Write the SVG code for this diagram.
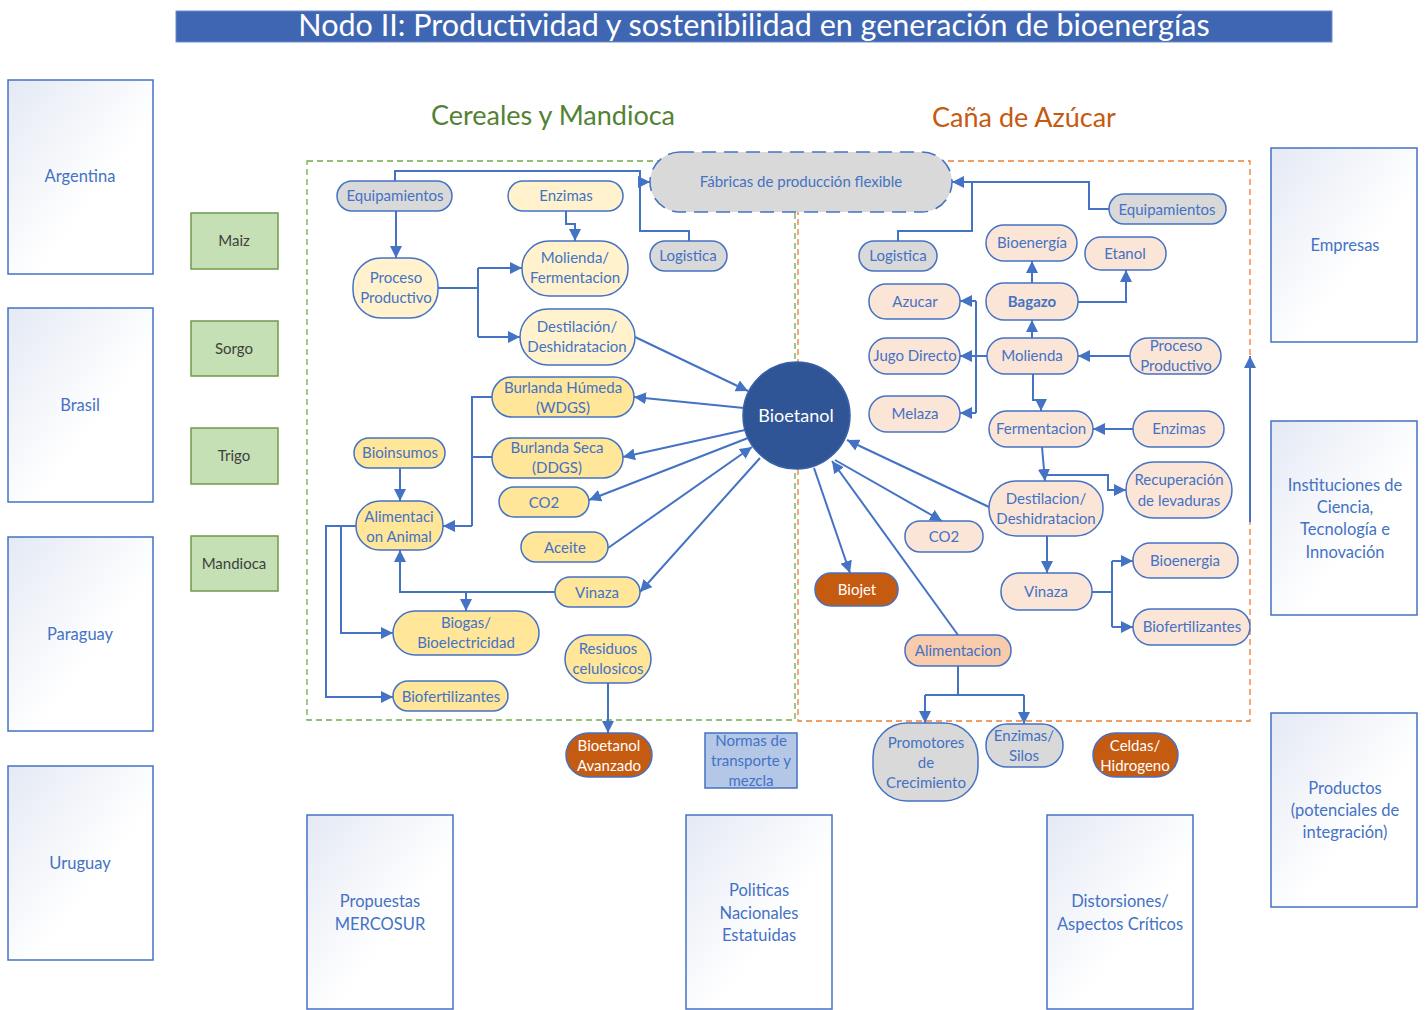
<svg xmlns="http://www.w3.org/2000/svg" width="1426" height="1010" viewBox="0 0 1426 1010">
<defs>
<linearGradient id="g" x1="0" y1="0" x2="1" y2="1">
<stop offset="0" stop-color="#e4e9f4"/>
<stop offset="0.6" stop-color="#ffffff"/>
</linearGradient>
<marker id="a" viewBox="0 0 10 10" refX="10" refY="5" markerWidth="12" markerHeight="12" markerUnits="userSpaceOnUse" orient="auto">
<path d="M0,0 L10,5 L0,10 z" fill="#4472c4"/>
</marker>
<style>
text{font-family:Lato,"Liberation Sans",sans-serif;text-anchor:middle}
.t{fill:#4472c4;font-size:15px}
.w{fill:#ffffff;font-size:15px}
.big{fill:#4472c4;font-size:16.5px}
.gt{fill:#3f3f3f;font-size:15px}
.n{stroke:#4472c4;stroke-width:1.5}
.gr{fill:#d9d9d9}
.ly{fill:#fff2cc}
.dy{fill:#ffe699}
.pk{fill:#fbe5d6}
.pk2{fill:#f8cbad}
.or{fill:#c55a11}
.box{fill:url(#g);stroke:#4472c4;stroke-width:1.5}
.gb{fill:#c5e0b4;stroke:#6f9a4a;stroke-width:1.5}
.c{fill:none;stroke:#4472c4;stroke-width:2}
.ar{marker-end:url(#a)}
</style>
</defs>

<g id="title">
<rect x="176" y="11" width="1156" height="31" fill="#3f66b3" stroke="#6c8cc8" stroke-width="1"/>
<text x="754" y="36" style="fill:#ffffff;font-size:30.5px">Nodo II: Productividad y sostenibilidad en generación de bioenergías</text>
</g>
<g id="headers">
<text x="553" y="125" style="fill:#548235;font-size:27px">Cereales y Mandioca</text>
<text x="1024" y="127" style="fill:#c55a11;font-size:27px">Caña de Azúcar</text>
</g>

<g id="regions">
<rect x="307" y="161" width="488" height="559" fill="none" stroke="#70ad47" stroke-width="1.3" stroke-dasharray="6,4"/>
<rect x="798" y="161" width="452" height="560" fill="none" stroke="#ed7d31" stroke-width="1.3" stroke-dasharray="6,4"/>
</g>

<g id="countries">
<g id="argentina"><rect class="box" x="8" y="80" width="145" height="194"/><text class="big" x="80" y="182">Argentina</text></g>
<g id="brasil"><rect class="box" x="8" y="308" width="145" height="194"/><text class="big" x="80" y="411">Brasil</text></g>
<g id="paraguay"><rect class="box" x="8" y="537" width="145" height="194"/><text class="big" x="80" y="640">Paraguay</text></g>
<g id="uruguay"><rect class="box" x="8" y="766" width="145" height="194"/><text class="big" x="80" y="869">Uruguay</text></g>
</g>

<g id="crops">
<g id="maiz"><rect class="gb" x="191" y="213" width="87" height="56"/><text class="gt" x="234" y="246">Maiz</text></g>
<g id="sorgo"><rect class="gb" x="191" y="321" width="87" height="55"/><text class="gt" x="234" y="354">Sorgo</text></g>
<g id="trigo"><rect class="gb" x="191" y="428" width="87" height="56"/><text class="gt" x="234" y="461">Trigo</text></g>
<g id="mandioca"><rect class="gb" x="191" y="536" width="87" height="55"/><text class="gt" x="234" y="569">Mandioca</text></g>
</g>

<g id="sidebox">
<g id="empresas"><rect class="box" x="1271" y="148" width="146" height="194"/><text class="big" x="1345" y="251">Empresas</text></g>
<g id="instituciones"><rect class="box" x="1271" y="421" width="146" height="194"/><text class="big" x="1345" y="491">Instituciones de</text><text class="big" x="1345" y="513">Ciencia,</text><text class="big" x="1345" y="535">Tecnología e</text><text class="big" x="1345" y="558">Innovación</text></g>
<g id="productos"><rect class="box" x="1271" y="713" width="146" height="194"/><text class="big" x="1345" y="794">Productos</text><text class="big" x="1345" y="816">(potenciales de</text><text class="big" x="1345" y="838">integración)</text></g>
<g id="propuestas"><rect class="box" x="307" y="815" width="146" height="194"/><text class="big" x="380" y="907">Propuestas</text><text class="big" x="380" y="930">MERCOSUR</text></g>
<g id="politicas"><rect class="box" x="686" y="815" width="146" height="194"/><text class="big" x="759" y="896">Politicas</text><text class="big" x="759" y="919">Nacionales</text><text class="big" x="759" y="941">Estatuidas</text></g>
<g id="distorsiones"><rect class="box" x="1047" y="815" width="146" height="194"/><text class="big" x="1120" y="907">Distorsiones/</text><text class="big" x="1120" y="930">Aspectos Críticos</text></g>
</g>

<g id="connectors">
<!-- left -->
<path class="c ar" d="M396,211 V258"/>
<path class="c" d="M395,181 V171 H640 V231 H689 V241"/>
<path class="c ar" d="M640,182 H650"/>
<path class="c ar" d="M566,211 V224 H575 V241"/>
<path class="c" d="M438,288 H478 M478,268 V337"/>
<path class="c ar" d="M478,268 H522"/>
<path class="c ar" d="M478,337 H520"/>
<path class="c ar" d="M635,337 L748,391"/>
<path class="c ar" d="M744,408 L634,397"/>
<path class="c ar" d="M745,430 L623,457"/>
<path class="c ar" d="M748,438 L589,500"/>
<path class="c ar" d="M608,548 L752,447"/>
<path class="c ar" d="M760,458 L640,592"/>
<path class="c" d="M492,397 H472 V526"/>
<path class="c" d="M492,457 H472"/>
<path class="c ar" d="M472,526 H443"/>
<path class="c ar" d="M400,468 V501"/>
<path class="c ar" d="M555,592 H400 V550"/>
<path class="c ar" d="M466,592 V611"/>
<path class="c ar" d="M356,526 H341 V633 H393"/>
<path class="c ar" d="M341,526 H326 V697 H393"/>
<path class="c ar" d="M608,683 V733"/>
<!-- right -->
<path class="c" d="M1109,209 H1089 V182 H972"/>
<path class="c ar" d="M972,182 H952"/>
<path class="c" d="M898,241 V231 H972 V182"/>
<path class="c ar" d="M1032,283 V261"/>
<path class="c ar" d="M1078,302 H1126 V270"/>
<path class="c ar" d="M1032,338 V320"/>
<path class="c ar" d="M1130,356 H1078"/>
<path class="c ar" d="M987,356 H960"/>
<path class="c" d="M976,301 V413"/>
<path class="c ar" d="M976,301 H960"/>
<path class="c ar" d="M976,413 H960"/>
<path class="c ar" d="M1033,374 V400 H1041 V411"/>
<path class="c ar" d="M1133,429 H1093"/>
<path class="c ar" d="M1042,447 L1045,481"/>
<path class="c ar" d="M1044,475 H1108 V490 H1126"/>
<path class="c ar" d="M989,507 L847,440"/>
<path class="c ar" d="M835,460 L942,521"/>
<path class="c ar" d="M958,635 L832,461"/>
<path class="c ar" d="M814,468 L850,573"/>
<path class="c ar" d="M1047,536 V573"/>
<path class="c" d="M1092,592 H1112 M1112,561 V627"/>
<path class="c ar" d="M1112,561 H1133"/>
<path class="c ar" d="M1112,627 H1133"/>
<path class="c" d="M958,666 V695 M925,695 H1024"/>
<path class="c ar" d="M925,695 V723"/>
<path class="c ar" d="M1024,695 V724"/>
<path class="c ar" d="M1250,522 V356"/>
</g>

<g id="fabricas"><rect x="650" y="152" width="302" height="60" rx="30" fill="#d9d9d9" stroke="#4472c4" stroke-width="1.5" stroke-dasharray="14,8"/><text class="t" x="801" y="187">Fábricas de producción flexible</text></g>

<g id="bioetanol"><circle cx="796.5" cy="415.5" r="53.5" fill="#2f5597" stroke="#3a62a8" stroke-width="1.5"/><text x="796" y="422" style="fill:#ffffff;font-size:18px">Bioetanol</text></g>

<!-- left nodes -->
<g id="equip-l"><rect class="n gr" x="337" y="181" width="115" height="30" rx="15"/><text class="t" x="395" y="201">Equipamientos</text></g>
<g id="enzimas-l"><rect class="n ly" x="508" y="181" width="115" height="30" rx="15"/><text class="t" x="566" y="201">Enzimas</text></g>
<g id="proceso-l"><rect class="n ly" x="353" y="258" width="85" height="60" rx="28"/><text class="t" x="396" y="283">Proceso</text><text class="t" x="396" y="303">Productivo</text></g>
<g id="molienda-l"><rect class="n ly" x="522" y="241" width="106" height="55" rx="27"/><text class="t" x="575" y="263">Molienda/</text><text class="t" x="575" y="283">Fermentacion</text></g>
<g id="destilacion-l"><rect class="n ly" x="520" y="309" width="115" height="56" rx="28"/><text class="t" x="577" y="332">Destilación/</text><text class="t" x="577" y="352">Deshidratacion</text></g>
<g id="logistica-l"><rect class="n gr" x="650" y="241" width="77" height="30" rx="15"/><text class="t" x="688" y="261">Logistica</text></g>
<g id="wdgs"><rect class="n dy" x="492" y="377" width="142" height="40" rx="20"/><text class="t" x="563" y="393">Burlanda Húmeda</text><text class="t" x="563" y="413">(WDGS)</text></g>
<g id="bioinsumos"><rect class="n dy" x="354" y="438" width="91" height="30" rx="15"/><text class="t" x="400" y="458">Bioinsumos</text></g>
<g id="ddgs"><rect class="n dy" x="492" y="438" width="131" height="40" rx="20"/><text class="t" x="557" y="453">Burlanda Seca</text><text class="t" x="557" y="473">(DDGS)</text></g>
<g id="co2-l"><rect class="n dy" x="499" y="487" width="90" height="30" rx="15"/><text class="t" x="544" y="508">CO2</text></g>
<g id="alim-animal"><rect class="n dy" x="356" y="501" width="87" height="49" rx="24"/><text class="t" x="399" y="522">Alimentaci</text><text class="t" x="399" y="542">on Animal</text></g>
<g id="aceite"><rect class="n dy" x="521" y="532" width="87" height="30" rx="15"/><text class="t" x="565" y="553">Aceite</text></g>
<g id="vinaza-l"><rect class="n dy" x="555" y="577" width="85" height="30" rx="15"/><text class="t" x="597" y="598">Vinaza</text></g>
<g id="biogas"><rect class="n dy" x="393" y="611" width="146" height="44" rx="22"/><text class="t" x="466" y="628">Biogas/</text><text class="t" x="466" y="648">Bioelectricidad</text></g>
<g id="residuos"><rect class="n dy" x="565" y="635" width="86" height="48" rx="24"/><text class="t" x="608" y="654">Residuos</text><text class="t" x="608" y="674">celulosicos</text></g>
<g id="biofert-l"><rect class="n dy" x="393" y="681" width="115" height="30" rx="15"/><text class="t" x="451" y="702">Biofertilizantes</text></g>
<g id="bioet-avanzado"><rect class="n or" x="566" y="733" width="86" height="44" rx="22"/><text class="w" x="609" y="751">Bioetanol</text><text class="w" x="609" y="771">Avanzado</text></g>
<g id="normas"><rect x="705" y="733" width="92" height="55" fill="#b4c7e7" stroke="#4472c4" stroke-width="1.5"/><text class="t" x="751" y="746">Normas de</text><text class="t" x="751" y="766">transporte y</text><text class="t" x="751" y="786">mezcla</text></g>

<!-- right nodes -->
<g id="equip-r"><rect class="n gr" x="1109" y="194" width="117" height="30" rx="15"/><text class="t" x="1167" y="215">Equipamientos</text></g>
<g id="logistica-r"><rect class="n gr" x="859" y="241" width="78" height="30" rx="15"/><text class="t" x="898" y="261">Logistica</text></g>
<g id="bioenergia-r1"><rect class="n pk" x="986" y="225" width="91" height="36" rx="18"/><text class="t" x="1032" y="248">Bioenergía</text></g>
<g id="etanol"><rect class="n pk" x="1085" y="237" width="81" height="33" rx="16"/><text class="t" x="1125" y="259">Etanol</text></g>
<g id="azucar"><rect class="n pk" x="869" y="284" width="91" height="35" rx="17"/><text class="t" x="915" y="307">Azucar</text></g>
<g id="bagazo"><rect class="n pk" x="986" y="283" width="92" height="37" rx="18"/><text class="t" x="1032" y="307" style="font-weight:bold">Bagazo</text></g>
<g id="jugo"><rect class="n pk" x="869" y="338" width="91" height="36" rx="18"/><text class="t" x="915" y="361">Jugo Directo</text></g>
<g id="molienda-r"><rect class="n pk" x="987" y="338" width="91" height="36" rx="18"/><text class="t" x="1032" y="361">Molienda</text></g>
<g id="proceso-r"><rect class="n pk" x="1130" y="338" width="91" height="36" rx="18"/><text class="t" x="1176" y="351">Proceso</text><text class="t" x="1176" y="371">Productivo</text></g>
<g id="melaza"><rect class="n pk" x="869" y="396" width="91" height="36" rx="18"/><text class="t" x="915" y="419">Melaza</text></g>
<g id="fermentacion"><rect class="n pk" x="989" y="411" width="104" height="36" rx="18"/><text class="t" x="1041" y="434">Fermentacion</text></g>
<g id="enzimas-r"><rect class="n pk" x="1133" y="411" width="91" height="36" rx="18"/><text class="t" x="1179" y="434">Enzimas</text></g>
<g id="levaduras"><rect class="n pk" x="1126" y="462" width="106" height="56" rx="28"/><text class="t" x="1179" y="485">Recuperación</text><text class="t" x="1179" y="506">de levaduras</text></g>
<g id="destilacion-r"><rect class="n pk" x="989" y="481" width="114" height="55" rx="27"/><text class="t" x="1046" y="504">Destilacion/</text><text class="t" x="1046" y="524">Deshidratacion</text></g>
<g id="co2-r"><rect class="n pk" x="905" y="521" width="78" height="31" rx="15"/><text class="t" x="944" y="542">CO2</text></g>
<g id="vinaza-r"><rect class="n pk" x="1001" y="573" width="91" height="37" rx="18"/><text class="t" x="1046" y="597">Vinaza</text></g>
<g id="bioenergia-r2"><rect class="n pk" x="1133" y="543" width="105" height="35" rx="17"/><text class="t" x="1185" y="566">Bioenergia</text></g>
<g id="biofert-r"><rect class="n pk" x="1133" y="609" width="117" height="36" rx="18"/><text class="t" x="1192" y="632">Biofertilizantes</text></g>
<g id="biojet"><rect class="n or" x="815" y="573" width="83" height="33" rx="16"/><text class="w" x="857" y="595">Biojet</text></g>
<g id="alimentacion-r"><rect class="n pk2" x="905" y="635" width="106" height="31" rx="15"/><text class="t" x="958" y="656">Alimentacion</text></g>
<g id="promotores"><rect class="n gr" x="873" y="723" width="105" height="78" rx="34"/><text class="t" x="926" y="748">Promotores</text><text class="t" x="926" y="768">de</text><text class="t" x="926" y="788">Crecimiento</text></g>
<g id="silos"><rect class="n gr" x="986" y="724" width="77" height="43" rx="21"/><text class="t" x="1024" y="741">Enzimas/</text><text class="t" x="1024" y="761">Silos</text></g>
<g id="celdas"><rect class="n or" x="1093" y="733" width="85" height="44" rx="22"/><text class="w" x="1135" y="751">Celdas/</text><text class="w" x="1135" y="771">Hidrogeno</text></g>
</svg>
